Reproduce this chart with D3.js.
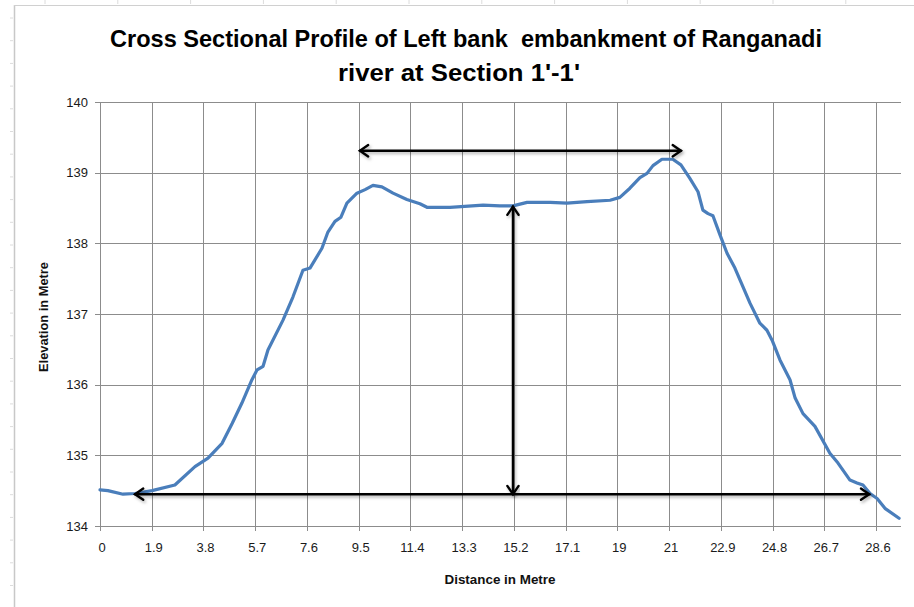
<!DOCTYPE html>
<html><head><meta charset="utf-8">
<script src="https://cdn.jsdelivr.net/npm/d3@7"></script>
<style>
html,body{margin:0;padding:0;background:#fff;}
svg{display:block;}
</style></head>
<body>
<svg id="chart" width="914" height="607"></svg>
<script>
// ---- data ----
const distance = [0,0.29,0.85,1.29,1.92,2.76,3.50,3.98,4.50,4.87,5.23,5.60,5.79,6.01,6.19,6.74,7.11,7.48,7.74,8.18,8.40,8.66,8.88,9.10,9.47,9.77,10.06,10.39,10.80,11.31,11.79,12.05,12.90,14.12,14.74,15.22,15.74,16.59,17.21,17.95,18.80,19.16,19.53,19.90,20.16,20.38,20.71,21.11,21.41,21.74,22.04,22.22,22.41,22.59,22.85,23.11,23.40,23.96,24.32,24.58,24.77,25.06,25.43,25.62,25.91,26.35,26.90,27.20,27.64,27.90,28.12,28.38,28.64,28.93,29.45];
const elevation = [134.51,134.50,134.45,134.46,134.50,134.58,134.84,134.96,135.17,135.45,135.74,136.07,136.21,136.26,136.49,136.91,137.24,137.62,137.65,137.93,138.16,138.31,138.37,138.57,138.71,138.76,138.82,138.80,138.71,138.62,138.56,138.51,138.51,138.54,138.53,138.53,138.58,138.58,138.57,138.59,138.61,138.65,138.78,138.93,138.99,139.10,139.19,139.19,139.11,138.92,138.73,138.47,138.42,138.39,138.12,137.86,137.65,137.15,136.87,136.77,136.63,136.35,136.07,135.81,135.59,135.41,135.03,134.89,134.65,134.61,134.58,134.46,134.39,134.25,134.11];
const xTickLabels = ["0","1.9","3.8","5.7","7.6","9.5","11.4","13.3","15.2","17.1","19","21","22.9","24.8","26.7","28.6"];
const yTicks = [134,135,136,137,138,139,140];
const titleLines = ["Cross Sectional Profile of Left bank  embankment of Ranganadi","river at Section 1'-1'"];
const xTitle = "Distance in Metre";
const yTitle = "Elevation in Metre";
// annotation arrows (data units): [x1,y1,x2,y2]
const arrowTop = [9.58,139.31,21.41,139.31];
const arrowVertical = [15.22,138.52,15.22,134.45];
const arrowBottom = [1.29,134.45,28.35,134.45];

// ---- layout ----
const svg = d3.select("#chart");
const L = 100, R = 901, T = 102, B = 526;
const x = d3.scaleLinear().domain([0, 28.6*(R-L)/776]).range([L, R]);
const y = d3.scaleLinear().domain([134,140]).range([B, T]);
const tickPos = xTickLabels.map((d,i)=> i*28.6/15);

// chart-area frame & faint spreadsheet ticks
const frame = svg.append("g");
frame.append("line").attr("x1",14.5).attr("x2",14.5).attr("y1",5).attr("y2",607).attr("stroke","#c8c8c8").attr("stroke-width",1.5);
frame.append("line").attr("x1",14).attr("x2",914).attr("y1",5.5).attr("y2",5.5).attr("stroke","#d0d0d0").attr("stroke-width",1);
d3.range(18,607,22.7).forEach(v=>frame.append("line").attr("x1",10).attr("x2",13).attr("y1",v).attr("y2",v).attr("stroke","#dcdcdc"));
d3.range(45,914,72.8).forEach(v=>frame.append("line").attr("x1",v).attr("x2",v).attr("y1",0).attr("y2",4).attr("stroke","#dcdcdc"));

// gridlines
const grid = svg.append("g").attr("stroke","#8c8c8c").attr("stroke-width",1);
yTicks.forEach(v=>grid.append("line").attr("x1",L-5).attr("x2",R).attr("y1",Math.round(y(v))+0.5).attr("y2",Math.round(y(v))+0.5));
tickPos.forEach(v=>grid.append("line").attr("x1",Math.round(x(v))+0.5).attr("x2",Math.round(x(v))+0.5).attr("y1",T).attr("y2",B+5));

// axis labels
const fontTick = "'Liberation Sans', Arial, sans-serif";
svg.append("g").selectAll("text").data(yTicks).join("text")
  .attr("x",88).attr("y",d=>y(d)+4.5).attr("text-anchor","end")
  .attr("font-family",fontTick).attr("font-size",13).attr("fill","#1a1a1a").text(d=>d);
svg.append("g").selectAll("text").data(xTickLabels).join("text")
  .attr("x",(d,i)=>x(tickPos[i])+2).attr("y",552).attr("text-anchor","middle")
  .attr("font-family",fontTick).attr("font-size",13).attr("fill","#1a1a1a").text(d=>d);

svg.append("text").attr("x",500).attr("y",584).attr("text-anchor","middle")
  .attr("font-family",fontTick).attr("font-weight","bold").attr("font-size",12.5)
  .attr("textLength",111).attr("lengthAdjust","spacingAndGlyphs").attr("fill","#111").text(xTitle);
svg.append("text").attr("transform","translate(48,317) rotate(-90)").attr("text-anchor","middle")
  .attr("font-family",fontTick).attr("font-weight","bold").attr("font-size",12)
  .attr("textLength",110).attr("lengthAdjust","spacingAndGlyphs").attr("fill","#111").text(yTitle);

// title
const fontTitle = "'Liberation Sans Narrow','Liberation Sans',Arial,sans-serif";
svg.append("text").attr("x",466).attr("y",47).attr("text-anchor","middle").style("white-space","pre")
  .attr("font-family",fontTitle).attr("font-weight","bold").attr("font-size",24)
  .attr("textLength",712).attr("lengthAdjust","spacingAndGlyphs").attr("fill","#000").text(titleLines[0]);
svg.append("text").attr("x",459).attr("y",81).attr("text-anchor","middle").style("white-space","pre")
  .attr("font-family",fontTitle).attr("font-weight","bold").attr("font-size",24)
  .attr("textLength",242).attr("lengthAdjust","spacingAndGlyphs").attr("fill","#000").text(titleLines[1]);

// profile line
const pts = distance.map((d,i)=>[d, elevation[i]]);
svg.append("path").datum(pts)
  .attr("d", d3.line().x(d=>x(d[0])).y(d=>y(d[1])))
  .attr("fill","none").attr("stroke","#4a7ebb").attr("stroke-width",3.2)
  .attr("stroke-linejoin","round").attr("stroke-linecap","round");

// arrows
const defs = svg.append("defs");
const f = defs.append("filter").attr("id","sh").attr("x","-10%").attr("y","-50%").attr("width","120%").attr("height","200%");
f.append("feDropShadow").attr("dx",1.5).attr("dy",2).attr("stdDeviation",1.5).attr("flood-color","#000").attr("flood-opacity",0.3);
function arrow(a){
  const x1=x(a[0]), y1=y(a[1]), x2=x(a[2]), y2=y(a[3]);
  const g = svg.append("g").attr("filter","url(#sh)").attr("stroke","#000").attr("stroke-width",2.4).attr("fill","none").attr("stroke-linecap","round");
  g.append("line").attr("x1",x1).attr("y1",y1).attr("x2",x2).attr("y2",y2);
  const ang = Math.atan2(y2-y1, x2-x1), len=10, w=0.6;
  [[x1,y1,ang+Math.PI],[x2,y2,ang]].forEach(([px,py,a])=>{
    const p1=[px-len*Math.cos(a-w), py-len*Math.sin(a-w)];
    const p2=[px-len*Math.cos(a+w), py-len*Math.sin(a+w)];
    g.append("path").attr("d",`M${p1[0]},${p1[1]}L${px},${py}L${p2[0]},${p2[1]}`).attr("stroke-linejoin","miter");
  });
}
arrow(arrowTop); arrow(arrowVertical); arrow(arrowBottom);
</script>
</body></html>
